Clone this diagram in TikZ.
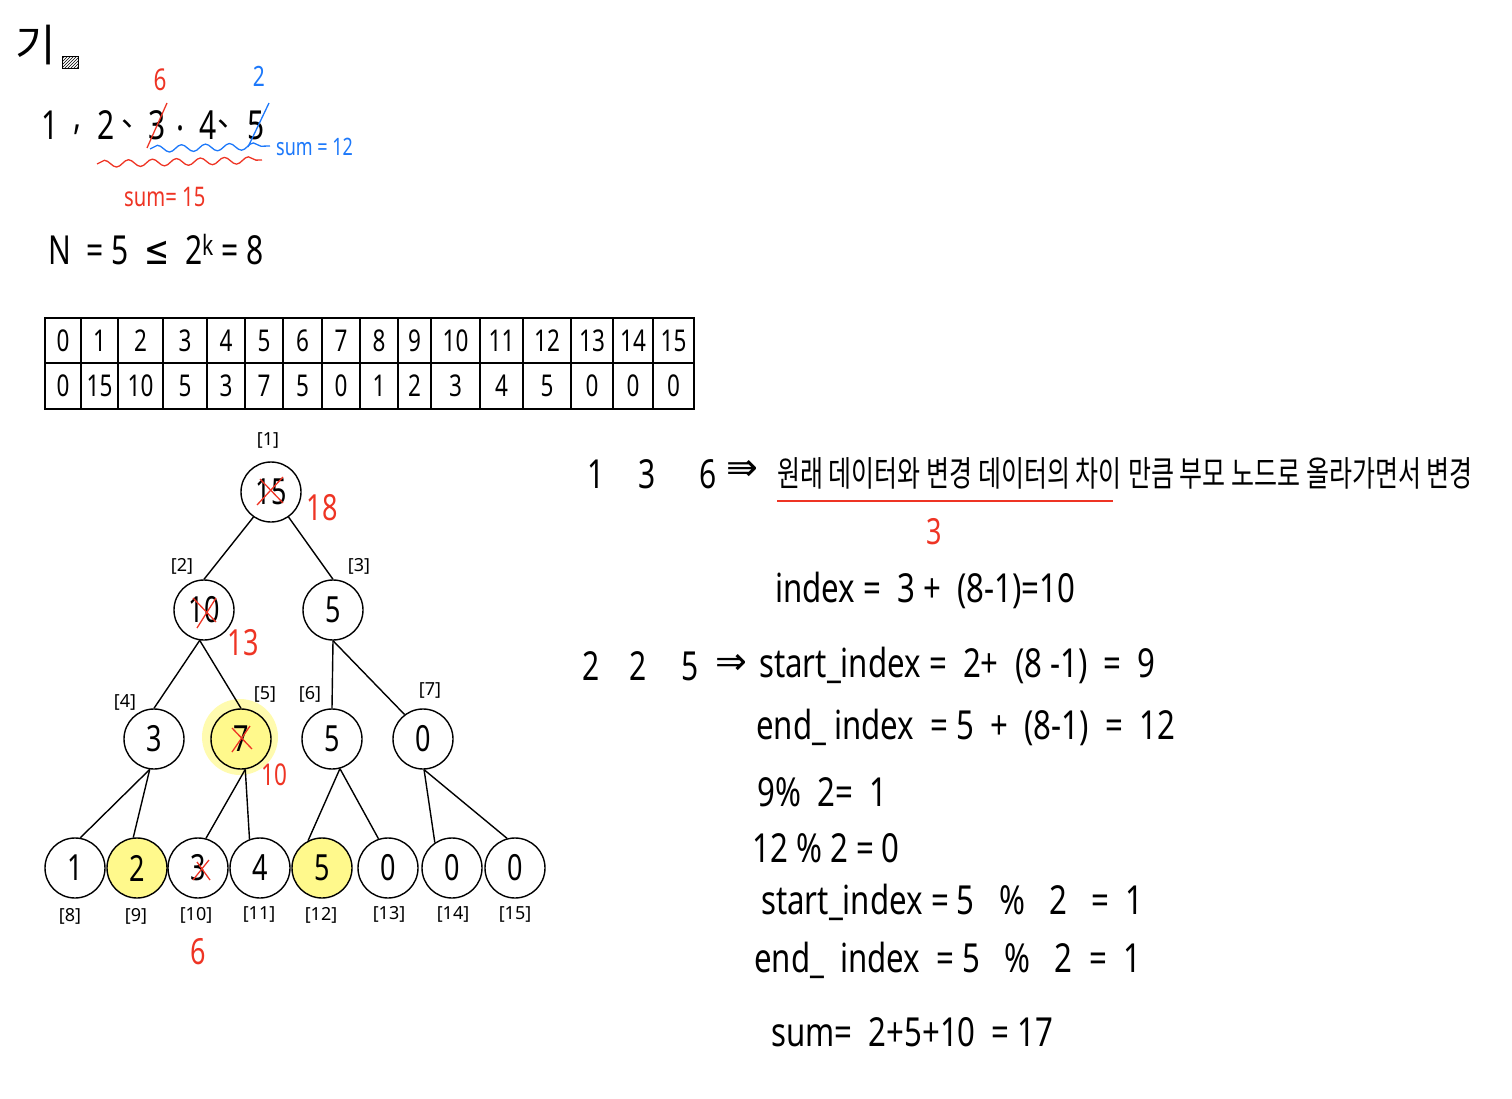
\documentclass[tikz,border=0pt]{standalone}
\usepackage{fontspec}
\setmainfont{Noto Sans}
\newfontfamily\kr{Noto Sans CJK KR}
\newfontfamily\sym{DejaVu Sans}
\usetikzlibrary{decorations.pathmorphing,patterns}
\definecolor{inkred}{RGB}{238,52,36}
\definecolor{inkblue}{RGB}{28,120,250}
\definecolor{hl}{RGB}{255,249,140}
\definecolor{halo}{RGB}{255,251,175}
\newcommand\hw[1]{\scalebox{0.75}[1]{#1}}
\newcommand\hx[1]{\scalebox{0.78}[1]{#1}}
\begin{document}
\begin{tikzpicture}[x=1pt,y=-1pt,
  txt/.style={inner sep=0pt, font=\fontsize{40}{44}\selectfont},
  lbl/.style={inner sep=0pt, font=\fontsize{18}{19}\selectfont},
  tnode/.style={circle, draw, line width=1.4pt, minimum size=60pt, inner sep=0pt, font=\fontsize{36}{38}\selectfont},
  edge/.style={line width=1.4pt},
  xmark/.style={inkred, line width=1.3pt},
  rednum/.style={inner sep=0pt, text=inkred, font=\fontsize{36}{38}\selectfont},
  cell/.style={inner sep=0pt, font=\fontsize{30}{32}\selectfont},
  wavy/.style={line width=1.3pt, decorate, decoration={snake, amplitude=3.5pt, segment length=24pt}},
  arrowsym/.style={inner sep=0pt, font=\sym\fontsize{38}{40}\selectfont},
]
\useasboundingbox (0,0) rectangle (1512,1099);

% ---------- top-left notes ----------
\node[inner sep=0pt, font=\kr\fontsize{44}{46}\selectfont] (title) at (36,45) {기};
\draw[line width=1pt, pattern=north east lines] (62,57) rectangle (78,69);

\node[txt] (s1) at (50,125) {\hw{1}};
\node[txt] (c1) at (78,130) {\hw{,}};
\node[txt] (s2) at (106,125) {\hw{2}};
\node[inner sep=0pt, font=\kr\fontsize{30}{32}\selectfont] (c2) at (136,124) {、};
\node[txt] (s3) at (157,125) {\hw{3}};
\node[txt] (c3) at (181,128) {\hw{.}};
\node[txt] (s4) at (208,125) {\hw{4}};
\node[inner sep=0pt, font=\kr\fontsize{30}{32}\selectfont] (c4) at (232,124) {、};
\node[txt] (s5) at (256,125) {\hw{5}};

\coordinate (rs1) at (147,148); \coordinate (rs2) at (167,103);
\draw[inkred, line width=1.3pt] (rs1) -- (rs2);
\coordinate (bs1) at (248,147); \coordinate (bs2) at (269,103);
\draw[inkblue, line width=1.3pt] (bs1) -- (bs2);
\node[inner sep=0pt, text=inkred, font=\fontsize{30}{32}\selectfont] (six) at (160,80) {\hw{6}};
\node[inner sep=0pt, text=inkblue, font=\fontsize{28}{30}\selectfont] (two) at (259,76) {\hw{2}};

\coordinate (bw1) at (150,149); \coordinate (bw2) at (270,146);
\draw[inkblue, wavy] (bw1) -- (bw2);
\node[inner sep=0pt, anchor=west, text=inkblue, font=\fontsize{24}{26}\selectfont] (bsum) at (276,147) {\hw{sum = 12}};
\coordinate (rw1) at (97,164); \coordinate (rw2) at (262,160);
\draw[inkred, wavy] (rw1) -- (rw2);
\node[inner sep=0pt, anchor=west, text=inkred, font=\fontsize{27}{29}\selectfont] (rsum) at (124,197) {\hw{sum= 15}};

\node[txt, anchor=west] (neq) at (48,250) {\hw{N \ = 5 \ {\sym≤} \ 2\textsuperscript{k} = 8}};

% ---------- array table ----------
\foreach \x in {45,81,118,163,207,245,283,322,360,398,431,480,523,571,613,653,694}
  \draw[line width=1.5pt] (\x,318) -- (\x,409);
\foreach \y in {318,363,409}
  \draw[line width=1.5pt] (44.3,\y) -- (694.7,\y);
\foreach \c/\t/\b [count=\i from 0] in {63/0/0,99.5/1/15,140.5/2/10,185/3/5,226/4/3,264/5/7,302.5/6/5,341/7/0,379/8/1,414.5/9/2,455.5/10/3,501.5/11/4,547/12/5,592/13/0,633/14/0,673.5/15/0}{
  \node[cell] (t\i) at (\c,341) {\hw{\t}};
  \node[cell] (b\i) at (\c,386) {\hw{\b}};
}

% ---------- segment tree ----------
\fill[halo] (240,737) circle (38);
\node[tnode] (n1) at (271,492) {\hw{15}};
\node[tnode] (n2) at (204,610) {\hw{10}};
\node[tnode] (n3) at (333,610) {\hw{5}};
\node[tnode] (n4) at (154,739) {\hw{3}};
\node[tnode, fill=hl] (n5) at (241,739) {\hw{7}};
\node[tnode] (n6) at (332,739) {\hw{5}};
\node[tnode] (n7) at (423,739) {\hw{0}};
\node[tnode] (n8) at (75,868) {\hw{1}};
\node[tnode, fill=hl] (n9) at (137,868) {\hw{2}};
\node[tnode] (n10) at (198,868) {\hw{3}};
\node[tnode] (n11) at (260,868) {\hw{4}};
\node[tnode, fill=hl] (n12) at (322,868) {\hw{5}};
\node[tnode] (n13) at (388,868) {\hw{0}};
\node[tnode] (n14) at (452,868) {\hw{0}};
\node[tnode] (n15) at (515,868) {\hw{0}};

\draw[edge] (n1.235) -- (n2.north);
\draw[edge] (n1.305) -- (n3.north);
\draw[edge] (n2.262) -- (n4.north);
\draw[edge] (n2.262) -- (n5.north);
\draw[edge] (n3.south) -- (n6.north);
\draw[edge] (n3.south) -- (n7.127);
\draw[edge] (n4.262) -- (n8.80);
\draw[edge] (n4.262) -- (n9.97);
\draw[edge] (n5.278) -- (n10.75);
\draw[edge] (n5.278) -- (n11.110);
\draw[edge] (n6.285) -- (n12.117);
\draw[edge] (n6.285) -- (n13.108);
\draw[edge] (n7.272) -- (n14.124);
\draw[edge] (n7.272) -- (n15.105);

% index labels
\node[lbl] (i1) at (268,440) {[1]};
\node[lbl] (i2) at (182,566) {[2]};
\node[lbl] (i3) at (359,566) {[3]};
\node[lbl] (i4) at (125,702) {[4]};
\node[lbl] (i5) at (265,694) {[5]};
\node[lbl] (i6) at (310,694) {[6]};
\node[lbl] (i7) at (430,690) {[7]};
\node[lbl] (i8) at (70,916) {[8]};
\node[lbl] (i9) at (136,916) {[9]};
\node[lbl] (i10) at (196,915) {[10]};
\node[lbl] (i11) at (259,914) {[11]};
\node[lbl] (i12) at (321,915) {[12]};
\node[lbl] (i13) at (389,914) {[13]};
\node[lbl] (i14) at (453,914) {[14]};
\node[lbl] (i15) at (515,914) {[15]};

% red corrections
\draw[xmark] ([shift={(-14,13)}]n1.center) -- ([shift={(12,-15)}]n1.center);
\draw[xmark] ([shift={(-11,-13)}]n1.center) -- ([shift={(12,11)}]n1.center);
\draw[xmark] ([shift={(-7,18)}]n2.center) -- ([shift={(12,-12)}]n2.center);
\draw[xmark] ([shift={(-11,-12)}]n2.center) -- ([shift={(12,12)}]n2.center);
\draw[xmark] ([shift={(-9,13)}]n5.center) -- ([shift={(9,-13)}]n5.center);
\draw[xmark] ([shift={(-9,-11)}]n5.center) -- ([shift={(11,10)}]n5.center);
\draw[xmark] ([shift={(-5,12)}]n10.center) -- ([shift={(11,-8)}]n10.center);
\draw[xmark] ([shift={(-1,-6)}]n10.center) -- ([shift={(12,12)}]n10.center);
\node[rednum] (r18) at (322,508) {\hw{18}};
\node[rednum] (r13) at (243,643) {\hw{13}};
\node[rednum, font=\fontsize{30}{32}\selectfont] (r10) at (274,775) {\hw{10}};
\node[rednum] (r6) at (198,952) {\hw{6}};

% ---------- right-hand notes ----------
\node[txt] (a1) at (596,474) {\hw{1}};
\node[txt] (a3) at (647,474) {\hw{3}};
\node[txt] (a6) at (708,474) {\hw{6}};
\node[arrowsym] (ar1) at (742,470) {⇛};
\node[inner sep=0pt, anchor=west, font=\kr\fontsize{25}{27}\selectfont] (ka) at (777,473) {\scalebox{1}[1.4]{원래 데이터와 변경 데이터의 차이}};
\node[inner sep=0pt, anchor=west, font=\kr\fontsize{25}{27}\selectfont] (kb) at (1128,473) {\scalebox{1}[1.4]{만큼 부모 노드로 올라가면서 변경}};
\coordinate (u1) at (777,501); \coordinate (u2) at (1113,501);
\draw[inkred, line width=1.4pt] (u1) -- (u2);
\node[rednum] (r3) at (934,532) {\hw{3}};

\node[txt, anchor=west] (l1) at (775,590) {\hx{index = \ 3 + \ (8-1)=10}};
\node[txt] (b2a) at (591,666) {\hw{2}};
\node[txt] (b2b) at (638,666) {\hw{2}};
\node[txt] (b5) at (690,666) {\hw{5}};
\node[arrowsym] (ar2) at (731,664) {⇒};
\node[txt, anchor=west] (l2) at (759,665) {\hx{start\_index = \ 2+ \ (8 -1) \ = \ 9}};
\node[txt, anchor=west] (l3) at (756,727) {\hx{end\_ index \ = 5 \ + \ (8-1) \ = \ 12}};
\node[txt, anchor=west] (l4) at (757,792) {\hx{9\% \ 2= \ 1}};
\node[txt, anchor=west] (l5) at (752,848) {\hx{12 \% 2 = 0}};
\node[txt, anchor=west] (l6) at (761,902) {\hx{start\_index = 5 \ \ \% \ \ 2 \ \ = \ 1}};
\node[txt, anchor=west] (l7) at (754,960) {\hx{end\_ \ index \ = 5 \ \ \% \ \ 2 \ = \ 1}};
\node[txt, anchor=west] (l8) at (771,1032) {\hx{sum= \ 2+5+10 \ = 17}};
\end{tikzpicture}
\end{document}
